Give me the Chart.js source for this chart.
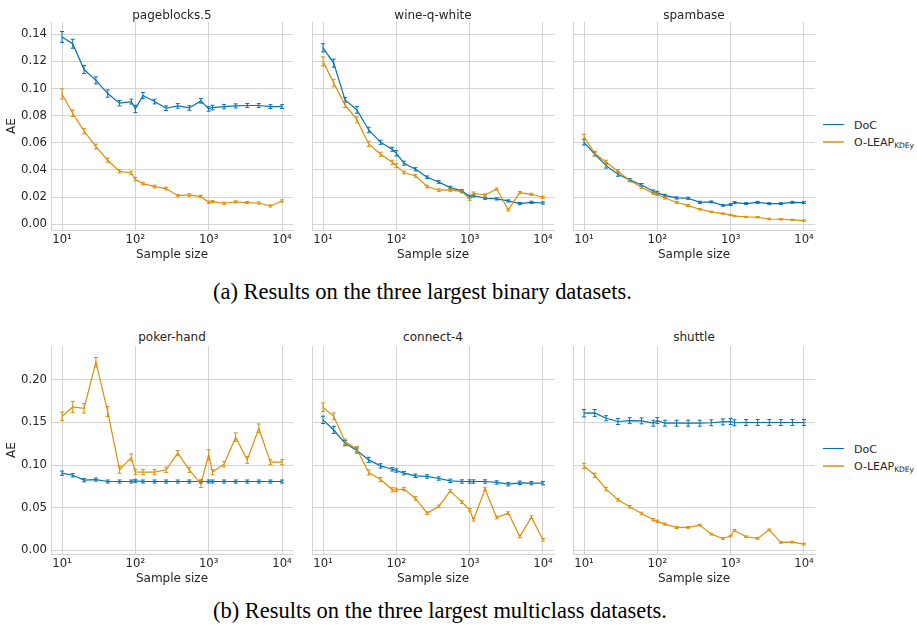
<!DOCTYPE html>
<html>
<head>
<meta charset="utf-8">
<script src="https://cdn.jsdelivr.net/npm/chart.js@4.4.0/dist/chart.umd.min.js"></script>
<style>
  html, body { margin: 0; padding: 0; background: #fff; }
  #page { position: relative; width: 917px; height: 633px; overflow: hidden; font-family: "DejaVu Sans", sans-serif; color: #262626; }
  canvas { position: absolute; }
  .title { position: absolute; width: 242px; text-align: center; font-size: 12px; line-height: 12px; white-space: nowrap; }
  .leg { position: absolute; font-size: 11px; line-height: 13px; white-space: nowrap; }
  .leg sub { font-size: 7.5px; vertical-align: baseline; position: relative; top: 2.5px; }
  .swatch { position: absolute; width: 21px; height: 0; }
  .caption { position: absolute; font-family: "Liberation Serif", serif; white-space: nowrap; color: #000; }
</style>
</head>
<body>
<div id="page"></div>
<script>
const BLUE = "#0173b2";
const ORANGE = "#de8f05";

const sampleSizes = [10, 14, 20, 29, 42, 61, 88, 100, 127, 183, 263, 379, 545, 784, 1000, 1128, 1623, 2335, 3359, 4832, 6951, 10000];
const xTicks = [10, 100, 1000, 10000];
const xTickLabels = ["10\u00b9", "10\u00b2", "10\u00b3", "10\u2074"];
const yTicksBinary = [0, 0.02, 0.04, 0.06, 0.08, 0.10, 0.12, 0.14];
const yTicksMulti = [0, 0.05, 0.10, 0.15, 0.20];

// binary datasets
const pageblocksDoc = [0.138, 0.133, 0.114, 0.106, 0.0963, 0.0892, 0.0904, 0.085, 0.0948, 0.0904, 0.0855, 0.0872, 0.0857, 0.0909, 0.085, 0.086, 0.0867, 0.0872, 0.0875, 0.0875, 0.0867, 0.0867];
const pageblocksDocErr = [0.004, 0.0033, 0.003, 0.0026, 0.0027, 0.002, 0.0018, 0.0027, 0.0022, 0.0017, 0.0017, 0.0017, 0.0017, 0.0017, 0.0017, 0.0017, 0.0016, 0.0015, 0.0015, 0.0014, 0.0014, 0.0014];
const pageblocksLeap = [0.096, 0.0818, 0.0686, 0.0572, 0.0472, 0.039, 0.0378, 0.0332, 0.030, 0.0278, 0.0263, 0.0211, 0.0216, 0.0204, 0.0162, 0.0167, 0.0155, 0.0165, 0.016, 0.0157, 0.0135, 0.0172];
const pageblocksLeapErr = [0.0037, 0.0024, 0.002, 0.0018, 0.0015, 0.0012, 0.0013, 0.0013, 0.001, 0.001, 0.001, 0.0009, 0.0009, 0.0009, 0.0008, 0.0008, 0.0008, 0.0008, 0.0008, 0.0008, 0.0008, 0.0008];

const wineDoc = [0.130, 0.1187, 0.0916, 0.0843, 0.0695, 0.0604, 0.0553, 0.0523, 0.045, 0.0405, 0.0346, 0.0312, 0.027, 0.0246, 0.0204, 0.0211, 0.0192, 0.0187, 0.0172, 0.0152, 0.0162, 0.0157];
const wineDocErr = [0.003, 0.003, 0.0018, 0.0025, 0.002, 0.0015, 0.0015, 0.002, 0.0015, 0.0012, 0.001, 0.001, 0.001, 0.001, 0.001, 0.001, 0.0008, 0.0008, 0.0008, 0.0008, 0.0008, 0.0008];
const wineLeap = [0.120, 0.104, 0.088, 0.0769, 0.0592, 0.0516, 0.0457, 0.0432, 0.0381, 0.0356, 0.0278, 0.0251, 0.0253, 0.0241, 0.0187, 0.0228, 0.0216, 0.026, 0.0106, 0.0233, 0.0221, 0.0199];
const wineLeapErr = [0.0033, 0.0028, 0.002, 0.0022, 0.002, 0.0015, 0.0015, 0.0015, 0.001, 0.001, 0.001, 0.001, 0.001, 0.001, 0.001, 0.001, 0.0008, 0.0008, 0.0008, 0.0008, 0.0008, 0.0008];

const spamDoc = [0.0604, 0.0518, 0.0432, 0.0369, 0.0327, 0.029, 0.0243, 0.0233, 0.0211, 0.0194, 0.0192, 0.0162, 0.0165, 0.014, 0.0145, 0.016, 0.0152, 0.0162, 0.0152, 0.0152, 0.0162, 0.016];
const spamDocErr = [0.002, 0.0015, 0.0018, 0.0015, 0.001, 0.001, 0.001, 0.001, 0.001, 0.0008, 0.0008, 0.0008, 0.0007, 0.0007, 0.0007, 0.0007, 0.0007, 0.0007, 0.0007, 0.0007, 0.0007, 0.0007];
const spamLeap = [0.0646, 0.0523, 0.0457, 0.039, 0.0322, 0.0273, 0.0228, 0.0221, 0.0194, 0.0162, 0.0138, 0.0111, 0.0091, 0.0079, 0.0069, 0.0061, 0.0054, 0.0052, 0.0039, 0.0037, 0.0032, 0.0027];
const spamLeapErr = [0.0018, 0.0015, 0.0015, 0.0013, 0.001, 0.001, 0.001, 0.001, 0.0008, 0.0007, 0.0007, 0.0006, 0.0006, 0.0005, 0.0005, 0.0005, 0.0005, 0.0005, 0.0005, 0.0005, 0.0005, 0.0005];

// multiclass datasets
const pokerDoc = [0.0905, 0.088, 0.0823, 0.083, 0.0807, 0.0807, 0.0807, 0.0815, 0.0807, 0.0807, 0.0807, 0.0807, 0.0807, 0.0807, 0.0807, 0.0807, 0.0807, 0.0807, 0.0807, 0.0807, 0.0807, 0.0807];
const pokerDocErr = [0.0025, 0.002, 0.002, 0.0018, 0.0018, 0.0018, 0.0018, 0.0018, 0.0018, 0.0018, 0.0018, 0.0018, 0.0018, 0.0018, 0.0018, 0.0018, 0.0018, 0.0018, 0.0018, 0.0018, 0.0018, 0.0018];
const pokerLeap = [0.157, 0.168, 0.1665, 0.2204, 0.1626, 0.0944, 0.109, 0.092, 0.0917, 0.0917, 0.0944, 0.1139, 0.0944, 0.078, 0.112, 0.0917, 0.101, 0.1326, 0.106, 0.1431, 0.1033, 0.1033];
const pokerLeapErr = [0.005, 0.0066, 0.0055, 0.0055, 0.0058, 0.004, 0.004, 0.003, 0.003, 0.003, 0.003, 0.003, 0.003, 0.0043, 0.006, 0.003, 0.003, 0.005, 0.004, 0.005, 0.003, 0.003];

const connectDoc = [0.1529, 0.141, 0.1256, 0.117, 0.106, 0.099, 0.095, 0.0936, 0.0905, 0.0874, 0.0866, 0.0842, 0.0815, 0.0807, 0.0807, 0.0807, 0.0807, 0.0796, 0.0776, 0.0792, 0.0788, 0.0788];
const connectDocErr = [0.0043, 0.004, 0.003, 0.003, 0.003, 0.0025, 0.002, 0.002, 0.002, 0.002, 0.002, 0.002, 0.002, 0.002, 0.002, 0.002, 0.002, 0.002, 0.002, 0.002, 0.002, 0.002];
const connectLeap = [0.1677, 0.157, 0.1275, 0.1186, 0.0913, 0.083, 0.071, 0.071, 0.0718, 0.0608, 0.0437, 0.0515, 0.0698, 0.0566, 0.0476, 0.0359, 0.0718, 0.0386, 0.0437, 0.0164, 0.039, 0.0125];
const connectLeapErr = [0.005, 0.004, 0.003, 0.003, 0.003, 0.0025, 0.0025, 0.002, 0.002, 0.002, 0.0015, 0.0015, 0.0015, 0.0015, 0.0015, 0.0015, 0.0015, 0.0015, 0.0015, 0.0015, 0.0015, 0.0015];

const shuttleDoc = [0.1607, 0.161, 0.1548, 0.151, 0.152, 0.1517, 0.149, 0.152, 0.149, 0.149, 0.149, 0.149, 0.1495, 0.1505, 0.151, 0.1495, 0.1498, 0.1498, 0.1498, 0.1498, 0.1498, 0.1498];
const shuttleDocErr = [0.0043, 0.004, 0.003, 0.0035, 0.0035, 0.0035, 0.0035, 0.0035, 0.0035, 0.0035, 0.0035, 0.0035, 0.0035, 0.0035, 0.0035, 0.0035, 0.0035, 0.0035, 0.0035, 0.0035, 0.0035, 0.0035];
const shuttleLeap = [0.099, 0.088, 0.0718, 0.0593, 0.0511, 0.0433, 0.0359, 0.034, 0.0308, 0.0269, 0.0269, 0.0296, 0.0191, 0.014, 0.0168, 0.0234, 0.016, 0.014, 0.0242, 0.0094, 0.0098, 0.0074];
const shuttleLeapErr = [0.003, 0.0025, 0.002, 0.0015, 0.0015, 0.0015, 0.0015, 0.0015, 0.0012, 0.0012, 0.001, 0.001, 0.001, 0.001, 0.001, 0.001, 0.001, 0.001, 0.001, 0.001, 0.001, 0.001];

const panels = [
  { title: "pageblocks.5", row: 0, col: 0, doc: pageblocksDoc, docErr: pageblocksDocErr, leap: pageblocksLeap, leapErr: pageblocksLeapErr },
  { title: "wine-q-white", row: 0, col: 1, doc: wineDoc, docErr: wineDocErr, leap: wineLeap, leapErr: wineLeapErr },
  { title: "spambase", row: 0, col: 2, doc: spamDoc, docErr: spamDocErr, leap: spamLeap, leapErr: spamLeapErr },
  { title: "poker-hand", row: 1, col: 0, doc: pokerDoc, docErr: pokerDocErr, leap: pokerLeap, leapErr: pokerLeapErr },
  { title: "connect-4", row: 1, col: 1, doc: connectDoc, docErr: connectDocErr, leap: connectLeap, leapErr: connectLeapErr },
  { title: "shuttle", row: 1, col: 2, doc: shuttleDoc, docErr: shuttleDocErr, leap: shuttleLeap, leapErr: shuttleLeapErr }
];

// layout of the plot areas
const AREA_LEFT = [51, 312, 573];
const AREA_TOP = [22, 346];
const AREA_W = 242, AREA_H = 208;
const Y_RANGE = [[-0.0042, 0.149], [-0.0042, 0.2394]];
const TITLE_BASELINE = [18.7, 340.7];
const GRID = "#d4d4d4";
const TEXT = "#262626";

const page = document.getElementById("page");

const errorBars = {
  id: "errorBars",
  afterDatasetsDraw(chart) {
    const ctx = chart.ctx;
    const ys = chart.scales.y;
    chart.data.datasets.forEach((ds, i) => {
      const meta = chart.getDatasetMeta(i);
      ctx.save();
      ctx.strokeStyle = ds.borderColor;
      ctx.lineWidth = 1;
      meta.data.forEach((pt, j) => {
        const v = ds.data[j].y, e = ds.errors[j];
        const y0 = ys.getPixelForValue(v - e), y1 = ys.getPixelForValue(v + e);
        ctx.beginPath();
        ctx.moveTo(pt.x, y0); ctx.lineTo(pt.x, y1);
        ctx.moveTo(pt.x - 2, y0); ctx.lineTo(pt.x + 2, y0);
        ctx.moveTo(pt.x - 2, y1); ctx.lineTo(pt.x + 2, y1);
        ctx.stroke();
      });
      ctx.restore();
    });
  }
};

function series(values, errors, color, label, order) {
  return {
    label,
    data: values.map((v, i) => ({ x: sampleSizes[i], y: v })),
    errors,
    borderColor: color,
    backgroundColor: color,
    borderWidth: 1.2,
    pointRadius: 0,
    tension: 0,
    order
  };
}

panels.forEach(p => {
  const first = p.col === 0;
  const yW = first ? 51 : 3;
  const canvas = document.createElement("canvas");
  const w = yW + AREA_W + 6;
  const h = 2 + AREA_H + 35;
  canvas.width = w; canvas.height = h;
  canvas.style.left = (AREA_LEFT[p.col] - yW) + "px";
  canvas.style.top = (AREA_TOP[p.row] - 2) + "px";
  page.appendChild(canvas);

  const yTicks = p.row === 0 ? yTicksBinary : yTicksMulti;

  new Chart(canvas.getContext("2d"), {
    type: "line",
    data: {
      datasets: [
        series(p.doc, p.docErr, BLUE, "DoC", 2),
        series(p.leap, p.leapErr, ORANGE, "O-LEAP", 1)
      ]
    },
    options: {
      responsive: false,
      animation: false,
      layout: { padding: { top: 2, right: 6, left: 0, bottom: 0 } },
      plugins: { legend: { display: false }, tooltip: { enabled: false } },
      scales: {
        x: {
          type: "logarithmic",
          min: Math.pow(10, 0.85),
          max: Math.pow(10, 4.15),
          afterBuildTicks: s => { s.ticks = xTicks.map(v => ({ value: v })); },
          afterFit: s => { s.height = 35; s.paddingLeft = 0; s.paddingRight = 0; },
          ticks: {
            color: TEXT,
            font: { family: "DejaVu Sans", size: 11.7 },
            padding: 3,
            maxRotation: 0,
            callback: v => xTickLabels[xTicks.indexOf(v)]
          },
          grid: { color: GRID, lineWidth: 1, drawTicks: false },
          border: { color: GRID, width: 1 },
          title: {
            display: true, text: "Sample size", color: TEXT,
            font: { family: "DejaVu Sans", size: 12 },
            padding: { top: 0, bottom: 3 }
          }
        },
        y: {
          min: Y_RANGE[p.row][0],
          max: Y_RANGE[p.row][1],
          afterBuildTicks: s => { s.ticks = yTicks.map(v => ({ value: v })); },
          afterFit: s => { s.width = yW; s.paddingTop = 0; s.paddingBottom = 0; },
          ticks: {
            display: first,
            color: TEXT,
            font: { family: "DejaVu Sans", size: 11.7 },
            padding: 4,
            callback: v => v.toFixed(2)
          },
          grid: { color: GRID, lineWidth: 1, drawTicks: false },
          border: { color: GRID, width: 1 },
          title: {
            display: first, text: "AE", color: TEXT,
            font: { family: "DejaVu Sans", size: 12 },
            padding: { top: 5, bottom: 0 }
          }
        }
      }
    },
    plugins: [errorBars]
  });

  const t = document.createElement("div");
  t.className = "title";
  t.textContent = p.title;
  t.style.left = AREA_LEFT[p.col] + "px";
  t.style.top = (TITLE_BASELINE[p.row] - 10.2) + "px";
  page.appendChild(t);
});

// legends to the right of the last column
[125, 449].forEach(y0 => {
  [["DoC", BLUE, 0, 1.3, 1], ["O-LEAP<sub>KDEy</sub>", ORANGE, 17, 2, 0.75]].forEach(([txt, col, dy, lw, op]) => {
    const sw = document.createElement("div");
    sw.className = "swatch";
    sw.style.left = "823px";
    sw.style.top = (y0 + dy - lw / 2) + "px";
    sw.style.borderTop = lw + "px solid " + col;
    sw.style.opacity = op;
    page.appendChild(sw);
    const lab = document.createElement("div");
    lab.className = "leg";
    lab.innerHTML = txt;
    lab.style.left = "854px";
    lab.style.top = (y0 + dy - 6.3) + "px";
    page.appendChild(lab);
  });
});

// captions, sized to span the same width as in the figure
const captions = [
  ["(a) Results on the three largest binary datasets.", 213, 300],
  ["(b) Results on the three largest multiclass datasets.", 213, 618.5]
];
const mctx = document.createElement("canvas").getContext("2d");
mctx.font = '100px "Liberation Serif"';
const capSize = 100 * 419 / mctx.measureText(captions[0][0]).width;
captions.forEach(([txt, x, base]) => {
  const d = document.createElement("div");
  d.className = "caption";
  d.textContent = txt;
  d.style.fontSize = capSize + "px";
  d.style.lineHeight = capSize + "px";
  d.style.left = x + "px";
  d.style.top = (base - 0.8375 * capSize) + "px";
  page.appendChild(d);
});
</script>
</body>
</html>
